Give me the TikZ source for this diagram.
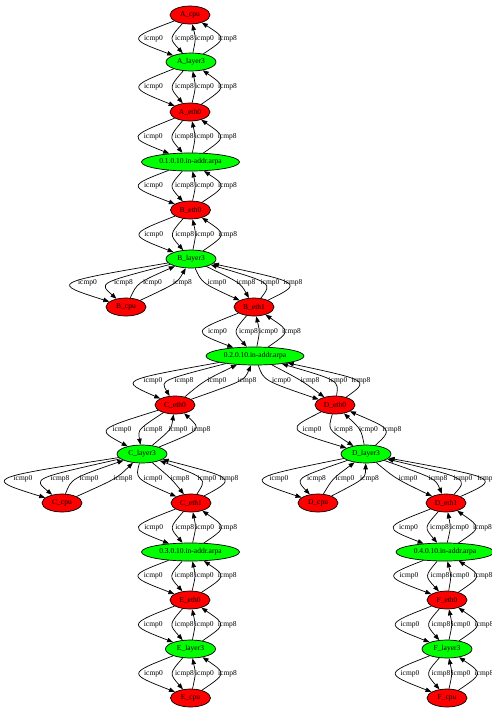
\documentclass[tikz,border=0pt]{standalone}
\usepackage{fontspec}
\setmainfont{Liberation Serif}
\usetikzlibrary{shapes.geometric,calc,arrows.meta}

\tikzset{
  host/.style={ellipse,draw,line width=0.7pt,inner sep=0pt,minimum width=40pt,minimum height=18pt,fill=red,font=\fontsize{7.5}{8}\selectfont},
  layer/.style={host,fill=green,minimum width=50pt},
  arpa/.style={layer,minimum width=98pt},
  edge/.style={line width=0.7pt,-{Triangle[length=6pt,width=4.5pt]}},
  lbl/.style={inner sep=0pt,font=\fontsize{7.5}{8}\selectfont}
}

\begin{document}
\begin{tikzpicture}[x=1pt,y=-1pt]
  \useasboundingbox (0,0) rectangle (491,710);
  % A side
  \node[host] (Acpu) at (190,15) {A\_cpu};
  \node[layer] (Al3) at (191,62) {A\_layer3};
  \node[host] (Aeth0) at (190,112) {A\_eth0};
  \node[arpa] (arpa1) at (190.5,162) {0.1.0.10.in-addr.arpa};
  % B
  \node[host] (Beth0) at (190.5,210) {B\_eth0};
  \node[layer] (Bl3) at (191,259) {B\_layer3};
  \node[host] (Bcpu) at (126,307) {B\_cpu};
  \node[host] (Beth1) at (254,307) {B\_eth1};
  \node[arpa] (arpa2) at (255,356) {0.2.0.10.in-addr.arpa};
  % C and D
  \node[host] (Ceth0) at (175,405) {C\_eth0};
  \node[layer] (Cl3) at (142,454) {C\_layer3};
  \node[host] (Deth0) at (335,405) {D\_eth0};
  \node[layer] (Dl3) at (366,454) {D\_layer3};
  \node[host] (Ccpu) at (62,503) {C\_cpu};
  \node[host] (Ceth1) at (191,503) {C\_eth1};
  \node[host] (Dcpu) at (318,503) {D\_cpu};
  \node[host] (Deth1) at (446,503) {D\_eth1};
  \node[arpa] (arpa3) at (190.5,552) {0.3.0.10.in-addr.arpa};
  \node[arpa] (arpa4) at (445,552) {0.4.0.10.in-addr.arpa};
  % E and F
  \node[host] (Eeth0) at (190,600) {E\_eth0};
  \node[layer] (El3) at (190.5,649) {E\_layer3};
  \node[host] (Ecpu) at (190.5,698) {E\_cpu};
  \node[host] (Feth0) at (447,600) {F\_eth0};
  \node[layer] (Fl3) at (447,649) {F\_layer3};
  \node[host] (Fcpu) at (447,698) {F\_cpu};

  % four edges per pair, label x offsets from the middle
  \foreach \u/\v/\a/\b/\c/\d in {
      Acpu/Al3/-37/-6/14/37, Al3/Aeth0/-37/-6/14/37,
      Aeth0/arpa1/-37/-6/14/37, arpa1/Beth0/-37/-6/14/37,
      Beth0/Bl3/-37/-6/14/37, Bl3/Bcpu/-71/-35/-6/24,
      Bl3/Beth1/-5.5/23.5/47.5/70.5, Beth1/arpa2/-37/-6/14/37,
      arpa2/Ceth0/-62/-31/2/32, arpa2/Deth0/-13.5/15/43/66,
      Ceth0/Cl3/-36.5/-5.5/19.5/42.5, Deth0/Dl3/-38.5/-7/18/41.5,
      Cl3/Ccpu/-79/-42/-13/21, Cl3/Ceth1/-13.5/13.5/40.5/62.5,
      Dl3/Dcpu/-63/-25.5/3/27.5, Dl3/Deth1/2/32/57/81,
      Ceth1/arpa3/-37/-6/14/37, Deth1/arpa4/-37/-6/14/37,
      arpa3/Eeth0/-37/-6/14/37, arpa4/Feth0/-37/-6/14/37,
      Eeth0/El3/-37/-6/14/37, Feth0/Fl3/-37/-6/14/37,
      El3/Ecpu/-37/-6/14/37, Fl3/Fcpu/-37/-6/14/37} {
    \coordinate (m) at ($(\u)!0.5!(\v)$);
    \draw[edge] (\u) .. controls ($(m)+({4/3*(\a-10)},0)$) .. (\v);
    \draw[edge] (\u) .. controls ($(m)+({4/3*(\b-10)},0)$) .. (\v);
    \draw[edge] (\v) .. controls ($(m)+({4/3*(\c-10)},0)$) .. (\u);
    \draw[edge] (\v) .. controls ($(m)+({4/3*(\d-10)},0)$) .. (\u);
    \node[lbl] (\u-\v-a) at ($(m)+(\a,0)$) {icmp0};
    \node[lbl] (\u-\v-b) at ($(m)+(\b,0)$) {icmp8};
    \node[lbl] (\u-\v-c) at ($(m)+(\c,0)$) {icmp0};
    \node[lbl] (\u-\v-d) at ($(m)+(\d,0)$) {icmp8};
  }
\end{tikzpicture}
\end{document}
